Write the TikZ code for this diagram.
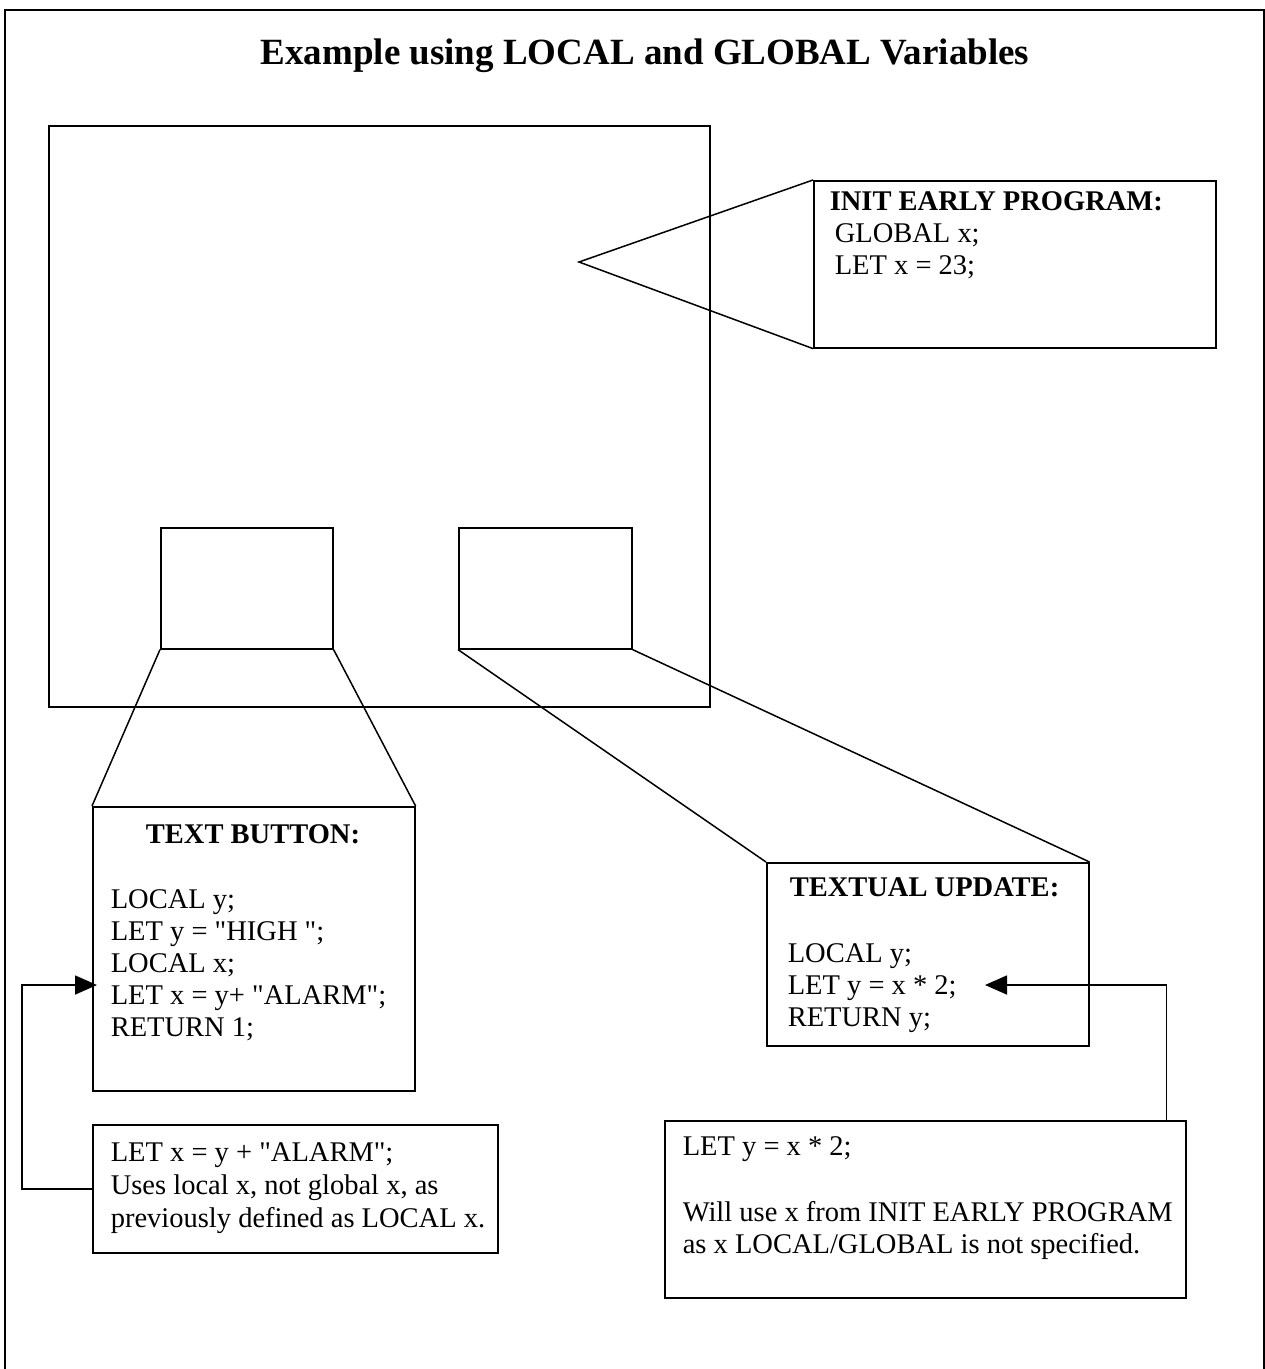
\documentclass[tikz,border=0pt]{standalone}
\usepackage{fontspec}
\setmainfont{Liberation Serif}
\usetikzlibrary{arrows.meta}
\newcommand{\dqt}{\textquotedbl}
\begin{document}
\begin{tikzpicture}[x=1pt,y=-1pt,line width=1.6pt,
  box/.style={draw,rectangle,inner sep=0pt,anchor=north west},
  ln/.style={anchor=base west,inner sep=0pt,font=\fontsize{28.5}{32}\selectfont},
  hd/.style={anchor=base west,inner sep=0pt,font=\fontsize{28.5}{32}\selectfont\bfseries},
  conn/.style={line width=1.5pt},
  arr/.style={line width=1.6pt,-{Triangle[length=22pt,width=19pt]}}]
\useasboundingbox (0,0) rectangle (1265,1369);
% outer frame
\draw[line width=2pt] (5,1380) -- (5,10) -- (1264,10) -- (1264,1380);
\node[anchor=base,inner sep=0pt,font=\fontsize{37}{44}\selectfont\bfseries] (title) at (645,64) {Example using LOCAL and GLOBAL Variables};
% screen and objects
\node[box,minimum width=661,minimum height=581] (screen) at (48,125) {};
\node[box,minimum width=172,minimum height=121] (obj1) at (160,527) {};
\node[box,minimum width=173,minimum height=121] (obj2) at (458,527) {};
% INIT EARLY PROGRAM callout
\node[box,minimum width=402,minimum height=167] (init) at (813,180) {};
\coordinate (tip) at (579,262);
\draw[conn] (init.north west) -- (tip) -- (init.south west);
\node[hd] (initT) at (829,210) {INIT EARLY PROGRAM:};
\node[ln] (initA) at (834,242) {GLOBAL x;};
\node[ln] (initB) at (834,274) {LET x = 23;};
% TEXT BUTTON
\node[box,minimum width=322,minimum height=284] (tb) at (92,806) {};
\draw[conn] (obj1.south west) -- (tb.north west);
\draw[conn] (obj1.south east) -- (tb.north east);
\node[anchor=base,inner sep=0pt,font=\fontsize{28.5}{32}\selectfont\bfseries] (tbT) at (253,843) {TEXT BUTTON:};
\node[ln] (tbA) at (110,908) {LOCAL y;};
\node[ln] (tbB) at (110,940) {LET y = \dqt HIGH \dqt;};
\node[ln] (tbC) at (110,972) {LOCAL x;};
\node[ln] (tbD) at (110,1004) {LET x = y+ \dqt ALARM\dqt;};
\node[ln] (tbE) at (110,1036) {RETURN 1;};
% TEXTUAL UPDATE
\node[box,minimum width=322,minimum height=183] (tu) at (766,862) {};
\draw[conn] (obj2.south west) -- (tu.north west);
\draw[conn] (obj2.south east) -- (tu.north east);
\node[hd] (tuT) at (789,896) {TEXTUAL UPDATE:};
\node[ln] (tuA) at (787,962) {LOCAL y;};
\node[ln] (tuB) at (787,994) {LET y = x * 2;};
\node[ln] (tuC) at (787,1026) {RETURN y;};
% note 1
\node[box,minimum width=405,minimum height=128] (n1) at (92,1124) {};
\node[ln] (n1A) at (110,1161) {LET x = y + \dqt ALARM\dqt;};
\node[ln] (n1B) at (110,1194) {Uses local x, not global x, as};
\node[ln] (n1C) at (110,1227) {previously defined as LOCAL x.};
\coordinate (tipA) at (97,985);
\draw[arr] (n1.west) -- ++(-70,0) |- (tipA);
% note 2
\node[box,minimum width=521,minimum height=177] (n2) at (664,1120) {};
\node[ln] (n2A) at (682,1155) {LET y = x * 2;};
\node[ln] (n2B) at (682,1221) {Will use x from INIT EARLY PROGRAM};
\node[ln] (n2C) at (682,1253) {as x LOCAL/GLOBAL is not specified.};
\coordinate (tipB) at (985,985);
\draw[arr] ([xshift=-20pt]n2.north east) |- (tipB);
\end{tikzpicture}
\end{document}
